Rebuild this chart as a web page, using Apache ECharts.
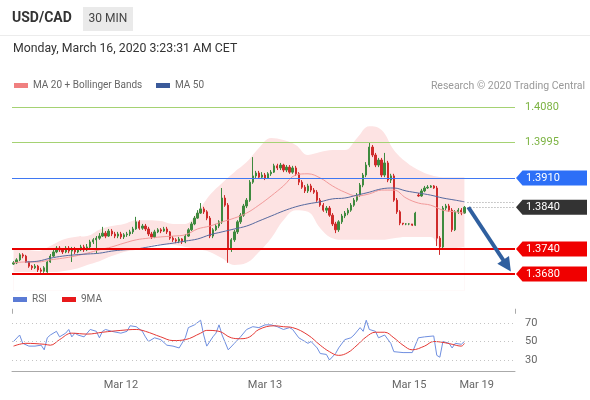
<!DOCTYPE html>
<html><head><meta charset="utf-8">
<script src="https://cdn.jsdelivr.net/npm/echarts/dist/echarts.min.js"></script>
<style>html,body{margin:0;padding:0;background:#fff}#c{width:590px;height:400px}</style>
</head><body><div id="c"></div>
<script>
// ---------- data ----------
const slotCount = 164; // half-hour slots on the time axis (candles + projection room)
const dateTicks = [[35, 'Mar 12'], [82, 'Mar 13'], [129, 'Mar 15'], [151, 'Mar 19']];

// [open, close, low, high]
const candles = [
[1.3704,1.3707,1.3702,1.3711],[1.3707,1.3714,1.3704,1.3718],[1.3714,1.3726,1.3711,1.3730],[1.3726,1.3723,1.3718,1.3730],
[1.3723,1.3709,1.3707,1.3726],[1.3709,1.3699,1.3695,1.3711],[1.3699,1.3695,1.3690,1.3702],[1.3695,1.3699,1.3692,1.3704],
[1.3699,1.3690,1.3685,1.3702],[1.3690,1.3687,1.3683,1.3695],[1.3687,1.3695,1.3683,1.3699],[1.3685,1.3709,1.3683,1.3711],
[1.3709,1.3723,1.3707,1.3728],[1.3723,1.3733,1.3721,1.3738],[1.3733,1.3742,1.3730,1.3747],[1.3742,1.3738,1.3733,1.3747],
[1.3738,1.3733,1.3728,1.3742],[1.3733,1.3742,1.3730,1.3747],[1.3742,1.3735,1.3730,1.3747],[1.3735,1.3740,1.3709,1.3745],
[1.3740,1.3733,1.3728,1.3745],[1.3733,1.3738,1.3730,1.3742],[1.3738,1.3745,1.3735,1.3750],[1.3745,1.3738,1.3733,1.3750],
[1.3738,1.3745,1.3735,1.3752],[1.3745,1.3757,1.3742,1.3762],[1.3757,1.3762,1.3752,1.3766],[1.3762,1.3766,1.3730,1.3771],
[1.3766,1.3771,1.3762,1.3778],[1.3771,1.3778,1.3769,1.3793],[1.3778,1.3771,1.3766,1.3783],[1.3771,1.3783,1.3769,1.3788],
[1.3783,1.3776,1.3771,1.3788],[1.3776,1.3771,1.3766,1.3781],[1.3771,1.3776,1.3766,1.3781],[1.3776,1.3769,1.3764,1.3781],
[1.3769,1.3774,1.3764,1.3778],[1.3774,1.3776,1.3769,1.3781],[1.3776,1.3781,1.3771,1.3786],[1.3781,1.3788,1.3776,1.3793],
[1.3788,1.3805,1.3786,1.3817],[1.3805,1.3790,1.3786,1.3809],[1.3790,1.3795,1.3786,1.3800],[1.3795,1.3788,1.3783,1.3800],
[1.3788,1.3776,1.3771,1.3793],[1.3776,1.3769,1.3764,1.3781],[1.3769,1.3781,1.3766,1.3786],[1.3781,1.3786,1.3778,1.3790],
[1.3786,1.3783,1.3778,1.3790],[1.3783,1.3788,1.3781,1.3793],[1.3788,1.3781,1.3776,1.3793],[1.3781,1.3766,1.3762,1.3783],
[1.3766,1.3762,1.3757,1.3771],[1.3762,1.3759,1.3754,1.3766],[1.3759,1.3764,1.3754,1.3769],[1.3764,1.3757,1.3752,1.3766],
[1.3757,1.3771,1.3754,1.3776],[1.3771,1.3786,1.3769,1.3790],[1.3786,1.3800,1.3783,1.3805],[1.3800,1.3814,1.3797,1.3819],
[1.3814,1.3826,1.3812,1.3833],[1.3826,1.3836,1.3824,1.3850],[1.3836,1.3829,1.3824,1.3841],[1.3829,1.3814,1.3809,1.3833],
[1.3814,1.3771,1.3766,1.3819],[1.3771,1.3786,1.3766,1.3790],[1.3786,1.3795,1.3783,1.3800],[1.3795,1.3805,1.3790,1.3809],
[1.3805,1.3862,1.3800,1.3886],[1.3862,1.3845,1.3841,1.3869],[1.3845,1.3742,1.3707,1.3850],[1.3742,1.3762,1.3733,1.3766],
[1.3762,1.3781,1.3757,1.3786],[1.3781,1.3805,1.3776,1.3809],[1.3805,1.3821,1.3800,1.3826],[1.3821,1.3843,1.3817,1.3848],
[1.3843,1.3857,1.3838,1.3862],[1.3857,1.3900,1.3853,1.3905],[1.3900,1.3915,1.3896,1.3960],[1.3915,1.3922,1.3910,1.3927],
[1.3922,1.3912,1.3908,1.3927],[1.3912,1.3917,1.3908,1.3924],[1.3917,1.3910,1.3905,1.3922],[1.3910,1.3920,1.3908,1.3924],
[1.3920,1.3924,1.3915,1.3929],[1.3924,1.3939,1.3922,1.3944],[1.3939,1.3934,1.3929,1.3944],[1.3934,1.3941,1.3929,1.3946],
[1.3941,1.3929,1.3924,1.3944],[1.3929,1.3936,1.3924,1.3941],[1.3936,1.3924,1.3920,1.3941],[1.3924,1.3934,1.3920,1.3939],
[1.3934,1.3920,1.3915,1.3939],[1.3920,1.3900,1.3893,1.3924],[1.3900,1.3888,1.3884,1.3905],[1.3888,1.3879,1.3874,1.3893],
[1.3879,1.3891,1.3874,1.3896],[1.3891,1.3881,1.3876,1.3896],[1.3881,1.3876,1.3872,1.3886],[1.3876,1.3857,1.3853,1.3881],
[1.3857,1.3845,1.3841,1.3862],[1.3845,1.3833,1.3829,1.3850],[1.3833,1.3838,1.3826,1.3843],[1.3838,1.3821,1.3817,1.3843],
[1.3821,1.3800,1.3795,1.3826],[1.3800,1.3786,1.3778,1.3805],[1.3786,1.3805,1.3781,1.3809],[1.3805,1.3819,1.3800,1.3824],
[1.3819,1.3826,1.3814,1.3831],[1.3826,1.3833,1.3821,1.3838],[1.3833,1.3845,1.3829,1.3850],[1.3845,1.3857,1.3841,1.3862],
[1.3857,1.3869,1.3853,1.3874],[1.3869,1.3893,1.3865,1.3898],[1.3893,1.3917,1.3888,1.3922],[1.3917,1.3941,1.3912,1.3948],
[1.3941,1.3984,1.3936,1.3994],[1.3984,1.3965,1.3960,1.3989],[1.3965,1.3941,1.3936,1.3970],[1.3941,1.3953,1.3936,1.3958],
[1.3953,1.3917,1.3912,1.3958],[1.3917,1.3946,1.3912,1.3970],[1.3946,1.3905,1.3900,1.3951],[1.3905,1.3915,1.3898,1.3920],
[1.3915,1.3857,1.3853,1.3920],[1.3857,1.3829,1.3824,1.3862],[1.3829,1.3802,1.3797,1.3833],[1.3802,1.3800,1.3797,1.3802],
[1.3800,1.3800,1.3797,1.3802],[1.3800,1.3800,1.3797,1.3802],[1.3800,1.3797,1.3795,1.3800],[1.3797,1.3826,1.3795,1.3829],
[1.3869,1.3867,1.3865,1.3874],[1.3867,1.3879,1.3865,1.3884],[1.3879,1.3886,1.3876,1.3891],[1.3886,1.3888,1.3884,1.3893],
[1.3888,1.3891,1.3886,1.3893],[1.3891,1.3886,1.3884,1.3893],[1.3886,1.3766,1.3747,1.3891],[1.3766,1.3745,1.3726,1.3771],
[1.3745,1.3838,1.3740,1.3843],[1.3838,1.3843,1.3833,1.3848],[1.3843,1.3833,1.3829,1.3848],[1.3833,1.3786,1.3781,1.3838],
[1.3786,1.3829,1.3783,1.3833],[1.3829,1.3833,1.3824,1.3838],[1.3833,1.3826,1.3821,1.3838],[1.3826,1.3840,1.3824,1.3843]
];

// moving averages / Bollinger bands, read at these candle indices
const bbIdx = [0,4,8,12,16,20,24,28,32,36,40,44,48,52,56,60,64,68,72,76,80,84,88,92,96,100,104,108,112,116,120,124,128,132,136,140,144,147];
const bbUpper = [1.3738,1.3738,1.3735,1.3747,1.3762,1.3769,1.3771,1.3786,1.3795,1.3800,1.3809,1.3809,1.3807,1.3800,1.3800,1.3829,1.3869,1.3898,1.3924,1.3948,1.3982,1.4006,1.4001,1.3989,1.3965,1.3972,1.3977,1.3977,1.4006,1.4034,1.4025,1.3977,1.3948,1.3929,1.3917,1.3912,1.3912,1.3912];
const bbLower = [1.3685,1.3685,1.3685,1.3685,1.3687,1.3692,1.3702,1.3711,1.3723,1.3733,1.3738,1.3747,1.3752,1.3750,1.3745,1.3740,1.3733,1.3718,1.3702,1.3707,1.3733,1.3766,1.3809,1.3833,1.3829,1.3790,1.3766,1.3762,1.3762,1.3762,1.3762,1.3766,1.3769,1.3769,1.3769,1.3738,1.3742,1.3745];
const ma20 = [1.3707,1.3709,1.3709,1.3714,1.3718,1.3723,1.3730,1.3738,1.3745,1.3754,1.3762,1.3766,1.3769,1.3771,1.3774,1.3788,1.3795,1.3805,1.3814,1.3826,1.3845,1.3867,1.3891,1.3917,1.3920,1.3910,1.3891,1.3876,1.3867,1.3872,1.3881,1.3881,1.3862,1.3850,1.3845,1.3833,1.3829,1.3826];
const ma50Idx = [4,8,12,16,20,24,28,32,36,40,44,48,52,56,60,64,68,72,76,80,84,88,92,96,100,104,108,112,116,120,124,128,132,136,140,144,147];
const ma50 = [1.3709,1.3711,1.3718,1.3723,1.3726,1.3728,1.3730,1.3735,1.3738,1.3740,1.3745,1.3750,1.3754,1.3759,1.3764,1.3774,1.3781,1.3788,1.3795,1.3807,1.3819,1.3831,1.3841,1.3848,1.3853,1.3860,1.3862,1.3869,1.3876,1.3884,1.3886,1.3879,1.3874,1.3869,1.3862,1.3857,1.3853];

// key levels
const resistance = [1.4080, 1.3995];
const pivot = 1.3910;
const lastPrice = 1.3840;
const lastMA = 1.3851;
const supports = [1.3740, 1.3680];
const arrowFrom = [148.3, 1.3840]; // [candle index, price]
const arrowTo = [160.9, 1.3700];

// RSI panel
const rsiIdx = [0,2,3,5,7,9,10,11,12,14,15,17,18,19,20,21,23,25,27,28,29,30,32,35,37,38,40,42,43,44,46,48,50,52,54,56,57,59,61,62,63,65,66,67,68,70,72,74,76,78,80,82,84,86,88,90,91,93,94,96,97,99,100,102,103,105,106,108,110,111,113,114,115,116,118,119,121,123,124,127,130,132,134,137,138,139,140,142,143,144,146,147];
const rsiVals = [50,57,48,45,45,46,41,54,57,61,55,59,63,55,59,57,55,63,61,54,61,63,61,59,61,67,66,61,55,50,54,52,46,45,43,54,65,68,73,57,45,55,59,68,57,41,48,55,63,66,65,68,68,66,63,65,63,54,52,48,50,43,37,36,30,37,43,52,54,57,65,61,73,63,61,54,57,48,39,38,38,54,55,56,35,33,50,48,43,48,47,50];
const ma9Idx = [0,4,10,12,15,19,24,29,35,40,43,48,52,56,61,63,67,71,74,77,80,85,88,91,96,100,103,106,109,112,115,118,121,124,127,130,134,137,140,143,146,147];
const ma9Vals = [45,48,47,46,52,59,58,60,62,63,61,55,51,52,59,62,61,54,53,55,63,67,66,65,57,46,39,35,38,46,55,60,60,54,46,41,45,50,49,47,45,48];
const rsiLevels = [70, 50, 30];

// ---------- chart ----------
const FONT = "Roboto, 'Liberation Sans', Arial, sans-serif";
const cats = [];
for (let i = 0; i < slotCount; i++) { const t = dateTicks.find(d => d[0] === i); cats.push(t ? t[1] : ''); }
const px = i => i + 0.5;
const pairs = (idx, vals) => idx.map((i, k) => [px(i), vals[k]]);

const chart = echarts.init(document.getElementById('c'), null, { renderer: 'canvas' });

const legendBase = { icon: 'rect', itemWidth: 14, itemHeight: 5, padding: 0, selectedMode: false,
  textStyle: { color: '#666', fontSize: 10, fontFamily: FONT } };
const levelLine = (value, color, width) => ({ yAxis: value, lineStyle: { color: color, width: width, type: 'solid' }, label: { show: false } });

const option = {
  animation: false,
  backgroundColor: '#fff',
  textStyle: { fontFamily: FONT },
  grid: [
    { left: 12, right: 75, top: 98.6, height: 192.2 },
    { left: 12, right: 75, top: 313.75, height: 57.8 }
  ],
  legend: [
    Object.assign({ left: 14, top: 80.5, data: [{ name: 'MA 20 + Bollinger Bands', itemStyle: { color: '#f08080' } }] }, legendBase),
    Object.assign({ left: 156, top: 80.5, data: [{ name: 'MA 50', itemStyle: { color: '#3b5a9a' } }] }, legendBase),
    Object.assign({ left: 13, top: 294.5, data: [{ name: 'RSI', itemStyle: { color: '#5b7bd5' } }] }, legendBase),
    Object.assign({ left: 62, top: 294.5, data: [{ name: '9MA', itemStyle: { color: '#e8191b' } }] }, legendBase)
  ],
  xAxis: [
    { type: 'category', gridIndex: 0, data: cats, boundaryGap: true, show: false },
    { type: 'value', gridIndex: 0, min: 0, max: slotCount, show: false },
    { type: 'category', gridIndex: 1, data: cats, boundaryGap: true,
      axisLine: { show: true, lineStyle: { color: '#aaa', width: 1 } }, axisTick: { show: false },
      axisLabel: { interval: 0, color: '#666', fontSize: 11, margin: 8, fontFamily: FONT }, splitLine: { show: false } },
    { type: 'value', gridIndex: 1, min: 0, max: slotCount, interval: slotCount,
      axisLine: { show: false }, axisTick: { show: true, length: 5, lineStyle: { color: '#aaa' } },
      axisLabel: { show: false }, splitLine: { show: false } }
  ],
  yAxis: [
    { type: 'value', gridIndex: 0, min: 1.364, max: 1.41, show: false },
    { type: 'value', gridIndex: 1, min: 17.5, max: 80, show: false }
  ],
  series: [
    { type: 'line', name: 'bbUp', xAxisIndex: 1, yAxisIndex: 0, data: pairs(bbIdx, bbUpper),
      symbol: 'none', smooth: 0.4, lineStyle: { opacity: 0 }, areaStyle: { color: '#fde3e3', opacity: 1, origin: 'start' }, z: 1, silent: true },
    { type: 'line', name: 'bbLow', xAxisIndex: 1, yAxisIndex: 0, data: pairs(bbIdx, bbLower),
      symbol: 'none', smooth: 0.4, lineStyle: { opacity: 0 }, areaStyle: { color: '#ffffff', opacity: 1, origin: 'start' }, z: 1, silent: true },
    { type: 'line', name: 'levels', xAxisIndex: 1, yAxisIndex: 0, data: [], z: 2, silent: true,
      markLine: { silent: true, symbol: ['none', 'none'], animation: false, precision: 4,
        data: [
          { yAxis: resistance[0], lineStyle: { color: '#a5d273', width: 1, type: 'solid' },
            label: { show: true, position: 'end', distance: 10, formatter: resistance[0].toFixed(4), color: '#7cb342', fontSize: 11, fontFamily: FONT } },
          { yAxis: resistance[1], lineStyle: { color: '#a5d273', width: 1, type: 'solid' },
            label: { show: true, position: 'end', distance: 10, formatter: resistance[1].toFixed(4), color: '#7cb342', fontSize: 11, fontFamily: FONT } },
          levelLine(pivot, '#3f78f2', 1),
          levelLine(supports[0], '#e80000', 2),
          levelLine(supports[1], '#e80000', 2),
          [{ coord: [px(148), lastMA], lineStyle: { color: '#999', width: 1, type: [1, 2] }, label: { show: false } }, { coord: [slotCount, lastMA] }],
          [{ coord: [px(148), lastPrice], lineStyle: { color: '#999', width: 1, type: [1, 2] }, label: { show: false } }, { coord: [slotCount, lastPrice] }]
        ] } },
    { type: 'candlestick', name: 'USD/CAD', xAxisIndex: 0, yAxisIndex: 0, data: candles, barWidth: 1.8, z: 3,
      itemStyle: { color: '#3e8a3e', color0: '#cf2b2b', borderColor: '#3e8a3e', borderColor0: '#cf2b2b', borderWidth: 1 } },
    { type: 'line', name: 'MA 20 + Bollinger Bands', xAxisIndex: 1, yAxisIndex: 0, data: pairs(bbIdx, ma20),
      symbol: 'none', smooth: 0.4, color: '#f08080', lineStyle: { color: '#f29a9a', width: 1 }, z: 4, silent: true },
    { type: 'line', name: 'MA 50', xAxisIndex: 1, yAxisIndex: 0, data: pairs(ma50Idx, ma50),
      symbol: 'none', smooth: 0.4, color: '#3b5a9a', lineStyle: { color: '#56699f', width: 1 }, z: 4, silent: true },
    { type: 'line', name: 'arrow', xAxisIndex: 1, yAxisIndex: 0, data: [], z: 6, silent: true,
      markLine: { silent: true, symbol: ['none', 'triangle'], symbolSize: 14, animation: false, precision: 4,
        lineStyle: { color: '#2f5f9f', width: 4, type: 'solid' }, label: { show: false },
        data: [[{ coord: [px(arrowFrom[0]), arrowFrom[1]] }, { coord: [px(arrowTo[0]), arrowTo[1]] }]] } },
    { type: 'line', name: 'rsiGrid', xAxisIndex: 3, yAxisIndex: 1, data: [], z: 1, silent: true,
      markLine: { silent: true, symbol: ['none', 'none'], animation: false, precision: 0,
        lineStyle: { color: '#c4c4c4', width: 1, type: [1, 3] },
        label: { show: true, position: 'end', distance: 10, color: '#666', fontSize: 11, fontFamily: FONT },
        data: rsiLevels.map(v => ({ yAxis: v })) } },
    { type: 'line', name: 'RSI', xAxisIndex: 3, yAxisIndex: 1, data: pairs(rsiIdx, rsiVals),
      symbol: 'none', color: '#5b7bd5', lineStyle: { color: '#6f8fe0', width: 1 }, z: 3, silent: true },
    { type: 'line', name: '9MA', xAxisIndex: 3, yAxisIndex: 1, data: pairs(ma9Idx, ma9Vals),
      symbol: 'none', smooth: 0.4, color: '#e8191b', lineStyle: { color: '#e53935', width: 1 }, z: 4, silent: true }
  ]
};
chart.setOption(option);

// ---------- header + price tags (y placed through the price axis) ----------
function tag(value, fill) {
  const y = chart.convertToPixel({ yAxisIndex: 0 }, value);
  return [
    { type: 'polygon', silent: true, z: 100,
      shape: { points: [[516, y], [522.5, y - 7.5], [587, y - 7.5], [587, y + 7.5], [522.5, y + 7.5]] },
      style: { fill: fill } },
    { type: 'text', silent: true, z: 101, x: 526, y: y,
      style: { text: value.toFixed(4), fill: '#fff', font: '11px ' + FONT, verticalAlign: 'middle', align: 'left' } }
  ];
}
const graphics = [
  { type: 'text', x: 12, y: 18.5, style: { text: 'USD/CAD', fill: '#333', font: 'bold 14px ' + FONT, verticalAlign: 'middle' } },
  { type: 'rect', shape: { x: 83, y: 7, width: 50, height: 24 }, style: { fill: '#eaeaea' } },
  { type: 'text', x: 108, y: 19, style: { text: '30 MIN', fill: '#444', font: '12px ' + FONT, align: 'center', verticalAlign: 'middle' } },
  { type: 'line', shape: { x1: 0, y1: 35.5, x2: 590, y2: 35.5 }, style: { stroke: '#ececec', lineWidth: 1 } },
  { type: 'text', x: 13, y: 48.5, style: { text: 'Monday, March 16, 2020 3:23:31 AM CET', fill: '#333', font: '12.3px ' + FONT, verticalAlign: 'middle' } },
  { type: 'text', x: 585, y: 86, style: { text: 'Research \u00a9 2020 Trading Central', fill: '#999', font: '10.5px ' + FONT, align: 'right', verticalAlign: 'middle' } }
].concat(tag(pivot, '#2d6ff7'), tag(lastPrice, '#333333'), tag(supports[0], '#f00000'), tag(supports[1], '#f00000'));
chart.setOption({ graphic: graphics });
</script>
</body></html>
